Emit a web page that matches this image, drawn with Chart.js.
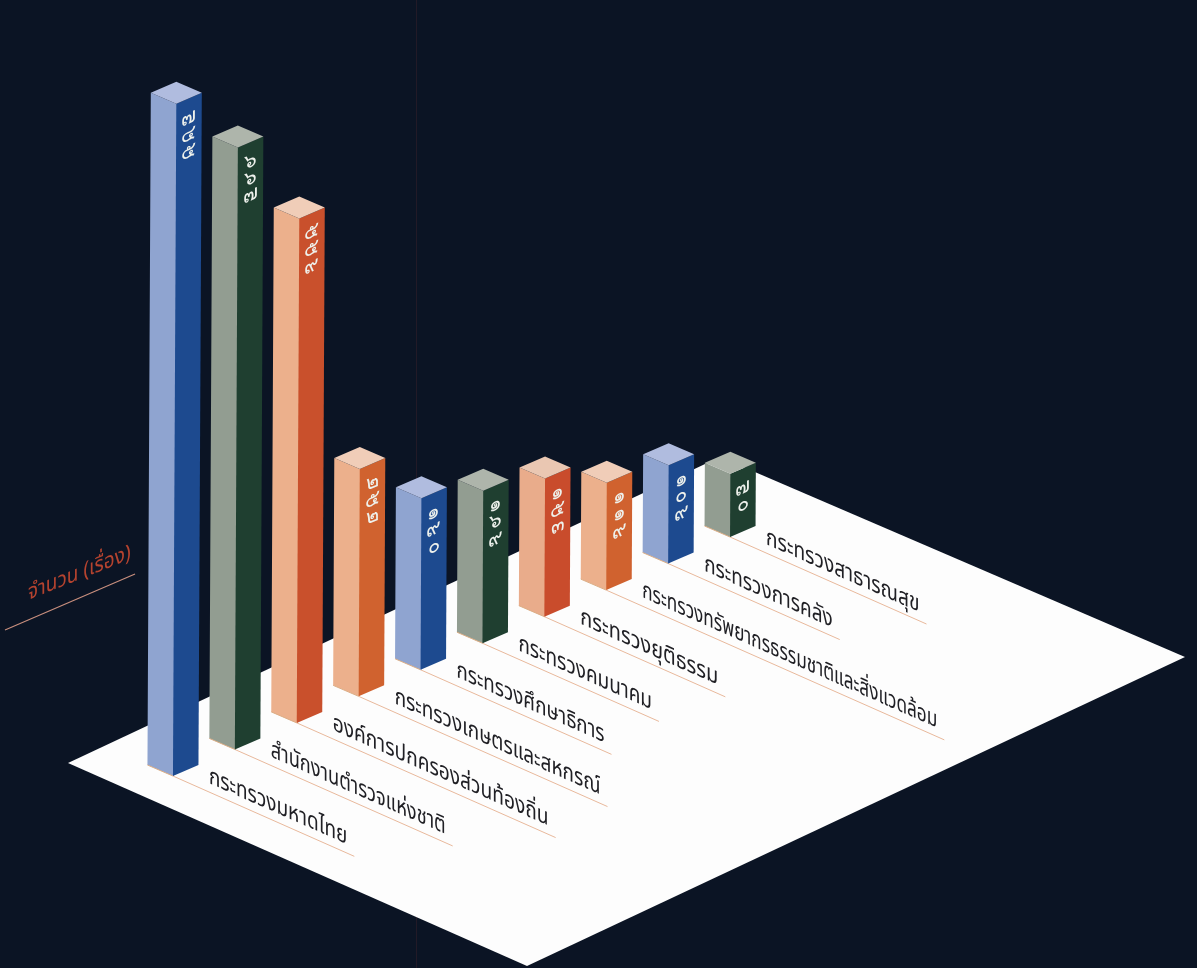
<!DOCTYPE html>
<html>
<head>
<meta charset="utf-8">
<title>จำนวน (เรื่อง)</title>
<script src="https://cdn.jsdelivr.net/npm/chart.js@4"></script>
<style>
    html, body { margin: 0; padding: 0; background: #0b1424; overflow: hidden; }
    canvas { display: block; }
</style>
</head>
<body>
<canvas id="isoChart" width="1197" height="968"></canvas>
<script>
// Chart data
const categories = [
    'กระทรวงมหาดไทย',
    'สำนักงานตำรวจแห่งชาติ',
    'องค์การปกครองส่วนท้องถิ่น',
    'กระทรวงเกษตรและสหกรณ์',
    'กระทรวงศึกษาธิการ',
    'กระทรวงคมนาคม',
    'กระทรวงยุติธรรม',
    'กระทรวงทรัพยากรธรรมชาติและสิ่งแวดล้อม',
    'กระทรวงการคลัง',
    'กระทรวงสาธารณสุข'
];
const values = [745, 667, 559, 252, 190, 169, 153, 119, 109, 70];
const axisTitle = 'จำนวน (เรื่อง)';

// Bar face colours
const leftColors = ['#8fa4d0', '#929d91', '#ecb08c', '#ecb08c', '#8fa4d0', '#929d91', '#e9ac8b', '#ecb08c', '#8fa4d0', '#929d91'];
const rightColors = ['#1d4a8f', '#1f3f30', '#c9502c', '#d0622f', '#1d4a8f', '#1f3f30', '#c94c2c', '#d0622f', '#1d4a8f', '#1f3f30'];
const topColors = ['#b0bcdf', '#aeb5ab', '#f0cdb8', '#f0cdb8', '#b0bcdf', '#aeb5ab', '#eac7b2', '#f0cdb8', '#b0bcdf', '#aeb5ab'];

// The print's typeface runs a little wider or narrower per name than ours
const labelStretch = [1, 0.96, 1.01, 1, 0.99, 1, 1.05, 0.905, 1, 1.01];

const ROW_SLOPE = -0.429;   // bars step up to the right along this slope
const FACE_DX = 25.5;       // horizontal size of one bar face
const FACE_DY = 11;
const LEAN = 0.005;         // slight lean of the scan
const LABEL_SLOPE = 0.443;  // floor labels run down to the right

function toThaiDigits(n) {
    return String(n).replace(/[0-9]/g, function(d) { return '๐๑๒๓๔๕๖๗๘๙'[d]; });
}

function poly(ctx, pts, color) {
    ctx.beginPath();
    ctx.moveTo(pts[0][0], pts[0][1]);
    for (let i = 1; i < pts.length; i++) ctx.lineTo(pts[i][0], pts[i][1]);
    ctx.closePath();
    ctx.fillStyle = color;
    ctx.fill();
}

// Where the front bottom corner of a bar lands once the row is skewed
function rowOffset(chart, bar) {
    return ROW_SLOPE * (bar.x - chart.getDatasetMeta(0).data[0].x);
}

const isoPlugin = {
    id: 'isoPlugin',
    beforeDraw(chart) {
        const ctx = chart.ctx;
        ctx.save();
        ctx.fillStyle = '#0b1424';
        ctx.fillRect(0, 0, chart.width, chart.height);
        // faint crease of the printed page
        ctx.strokeStyle = 'rgba(120, 50, 50, 0.22)';
        ctx.lineWidth = 1;
        ctx.beginPath();
        ctx.moveTo(416.5, 0);
        ctx.lineTo(416.5, chart.height);
        ctx.stroke();
        // white floor
        poly(ctx, [[68, 763], [527, 966], [1185, 657], [720, 457]], '#fdfdfd');
        // axis title and its rule
        ctx.strokeStyle = '#c98f7e';
        ctx.lineWidth = 1.2;
        ctx.beginPath();
        ctx.moveTo(5, 630);
        ctx.lineTo(135, 574);
        ctx.stroke();
        ctx.transform(1, -0.4, 0, 1.15, 28, 600);
        ctx.font = '19px "Noto Sans Thai"';
        ctx.fillStyle = '#b5432f';
        ctx.fillText(axisTitle, 0, 0);
        ctx.restore();
    },
    beforeDatasetsDraw(chart) {
        const ctx = chart.ctx;
        const bars = chart.getDatasetMeta(0).data;

        // leader lines and ministry names on the floor
        bars.forEach(function(bar, i) {
            const fx = bar.x;
            const fy = bar.base + rowOffset(chart, bar);
            ctx.save();
            ctx.font = '19px "Noto Sans Thai"';
            const w = ctx.measureText(chart.data.labels[i]).width * labelStretch[i];
            const reach = 36 + w + 7;
            ctx.strokeStyle = '#e9b99c';
            ctx.lineWidth = 1;
            ctx.beginPath();
            ctx.moveTo(fx, fy);
            ctx.lineTo(fx + reach, fy + reach * LABEL_SLOPE);
            ctx.stroke();
            ctx.transform(labelStretch[i], LABEL_SLOPE * labelStretch[i], 0, 1.25, fx + 36, fy + 36 * LABEL_SLOPE - 9);
            ctx.fillStyle = '#202025';
            ctx.fillText(chart.data.labels[i], 0, 0);
            ctx.restore();
        });

        // bars, back to front
        for (let i = bars.length - 1; i >= 0; i--) {
            const bar = bars[i];
            const off = rowOffset(chart, bar);
            const bx = bar.x, by = bar.base + off;
            const ty = bar.y + off;
            const tx = bx + LEAN * (by - ty);
            // left face runs a pixel under the right one so no seam shows
            poly(ctx, [[bx + 1, by], [bx, by], [bx - FACE_DX, by - FACE_DY], [tx - FACE_DX, ty - FACE_DY], [tx, ty], [tx + 1, ty]], leftColors[i]);
            poly(ctx, [[bx, by], [bx + FACE_DX, by - FACE_DY], [tx + FACE_DX, ty - FACE_DY], [tx, ty]], rightColors[i]);
            poly(ctx, [[tx, ty], [tx - FACE_DX, ty - FACE_DY], [tx, ty - 2 * FACE_DY], [tx + FACE_DX, ty - FACE_DY]], topColors[i]);

            // tan foot along the left face
            ctx.strokeStyle = '#dcae86';
            ctx.lineWidth = 1;
            ctx.beginPath();
            ctx.moveTo(bx - FACE_DX, by - FACE_DY);
            ctx.lineTo(bx, by);
            ctx.stroke();

            // value digits stacked on the right face
            const digits = toThaiDigits(values[i]);
            for (let d = 0; d < digits.length; d++) {
                ctx.save();
                ctx.transform(1, ROW_SLOPE, 0, 1, tx + 12.5, ty + 14 + d * 17);
                ctx.font = '20px "Noto Sans"';
                ctx.textAlign = 'center';
                ctx.textBaseline = 'middle';
                ctx.fillStyle = '#eef1ec';
                ctx.fillText(digits[d], 0, 0);
                ctx.restore();
            }
        }
        return false; // the default flat bars are replaced by the drawing above
    }
};

new Chart(document.getElementById('isoChart'), {
    type: 'bar',
    data: {
        labels: categories,
        datasets: [{
            label: axisTitle,
            data: values,
            backgroundColor: rightColors
        }]
    },
    options: {
        responsive: false,
        animation: false,
        devicePixelRatio: 1,
        layout: { padding: { left: 142, right: 436, top: 54, bottom: 192 } },
        scales: {
            x: { display: false },
            y: { display: false, min: 0, max: 800 }
        },
        plugins: { legend: { display: false }, tooltip: { enabled: false } }
    },
    plugins: [isoPlugin]
});
</script>
</body>
</html>
